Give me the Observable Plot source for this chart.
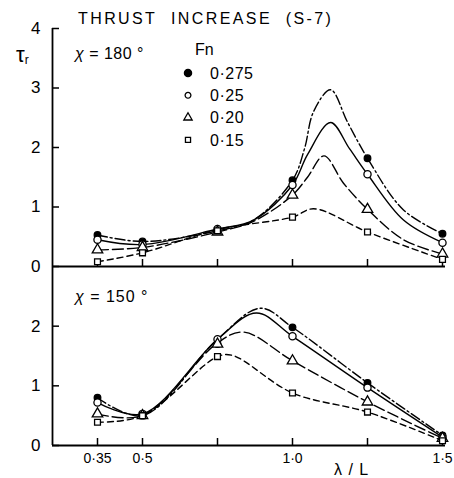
<!DOCTYPE html>
<html><head><meta charset="utf-8">
<script src="https://cdn.jsdelivr.net/npm/d3@7"></script>
<script src="https://cdn.jsdelivr.net/npm/@observablehq/plot@0.6"></script>
<style>
body{margin:0;background:#fff;font-family:"Liberation Sans",Arial,sans-serif;}
#wrap{position:relative;width:454px;height:478px;overflow:hidden;background:#fff;}
.abs{position:absolute;white-space:nowrap;color:#000;line-height:1;}
#wrap svg{position:absolute;left:0;}
</style></head><body><div id="wrap"></div>
<script>
// ---- data ----
const lambda = [0.35, 0.5, 0.75, 1.0, 1.25, 1.5];
const fnLabels = ["0·275", "0·25", "0·20", "0·15"];
const xTicks = [0.35, 0.5, 0.75, 1.0, 1.25, 1.5];
const xTickLabels = ["0·35", "0·5", "", "1·0", "", "1·5"];
const yTicksTop = [0, 1, 2, 3, 4];
const yTicksBottom = [0, 1, 2];

// chi = 180 deg, measured points
const p180_275 = [0.53, 0.42, 0.60, 1.45, 1.82, 0.55];
const p180_25  = [0.45, 0.37, 0.63, 1.37, 1.55, 0.40];
const p180_20  = [0.28, 0.32, 0.58, 1.20, 0.96, 0.21];
const p180_15  = [0.08, 0.23, 0.60, 0.83, 0.58, 0.12];
// chi = 180 deg, faired curves
const c180_275 = [[0.35,0.53],[0.5,0.42],[0.75,0.60],[0.87,0.78],[1.0,1.45],[1.04,1.98],[1.07,2.6],[1.127,2.97],[1.183,2.43],[1.25,1.82],[1.37,0.95],[1.5,0.55]];
const c180_25  = [[0.35,0.45],[0.5,0.37],[0.75,0.63],[0.87,0.78],[1.0,1.37],[1.05,1.88],[1.127,2.42],[1.19,1.98],[1.25,1.55],[1.37,0.78],[1.5,0.40]];
const c180_20  = [[0.35,0.28],[0.5,0.32],[0.75,0.58],[0.87,0.76],[1.0,1.2],[1.05,1.5],[1.105,1.86],[1.17,1.4],[1.25,0.96],[1.37,0.45],[1.5,0.21]];
const c180_15  = [[0.35,0.08],[0.5,0.23],[0.75,0.62],[1.0,0.83],[1.07,0.97],[1.25,0.58],[1.5,0.12]];

// chi = 150 deg, measured points
const p150_275 = [0.80, 0.50, 1.70, 1.98, 1.05, 0.17];
const p150_25  = [0.72, 0.53, 1.78, 1.83, 0.97, 0.14];
const p150_20  = [0.53, 0.50, 1.70, 1.42, 0.73, 0.12];
const p150_15  = [0.39, 0.50, 1.49, 0.88, 0.56, 0.08];
// chi = 150 deg, faired curves
const c150_275 = [[0.35,0.80],[0.5,0.50],[0.75,1.78],[0.893,2.3],[1.0,1.98],[1.25,1.05],[1.5,0.17]];
const c150_25  = [[0.35,0.72],[0.5,0.53],[0.75,1.78],[0.88,2.22],[1.0,1.83],[1.25,0.97],[1.5,0.14]];
const c150_20  = [[0.35,0.53],[0.5,0.50],[0.75,1.72],[0.837,1.9],[1.0,1.42],[1.25,0.73],[1.5,0.12]];
const c150_15  = [[0.35,0.39],[0.5,0.50],[0.75,1.49],[0.8,1.51],[1.0,0.88],[1.25,0.56],[1.5,0.08]];

// ---- styles ----
const dashes = ["10,3,2,3", null, "11,4", "6,4"];
const symbols = ["circle", "circle", "triangle", "square"];
const fills = ["black", "white", "white", "white"];
const radii = [3.3, 3.6, 3.9, 3.3];

const wrap = document.getElementById("wrap");

function seriesMarks(points, curves) {
  const marks = [];
  curves.forEach((c, i) => {
    marks.push(Plot.line(c.map(([x, y]) => ({x, y})), {
      x: "x", y: "y", curve: "catmull-rom", stroke: "black",
      strokeWidth: 1.4, strokeDasharray: dashes[i]
    }));
  });
  points.forEach((p, i) => {
    marks.push(Plot.dot(lambda.map((x, j) => ({x, y: p[j]})), {
      x: "x", y: "y", symbol: symbols[i], r: radii[i],
      fill: fills[i], stroke: "black", strokeWidth: 1.3
    }));
  });
  return marks;
}

const common = {
  width: 454, marginLeft: 52, marginRight: 9,
  x: {domain: [0.2, 1.51]},
  style: {fontFamily: "Liberation Sans, Arial, sans-serif", color: "black", background: "transparent", overflow: "visible"}
};
const intFmt = d3.format("d");

const topPlot = Plot.plot({
  ...common,
  height: 266, marginTop: 28, marginBottom: 0,
  y: {domain: [0, 4]},
  marks: [
    Plot.ruleX([0.2], {strokeWidth: 1.8}),
    Plot.ruleY([0], {strokeWidth: 1.8}),
    Plot.axisY(yTicksTop, {tickSize: -7, tickPadding: 19, fontSize: 17, label: null, strokeWidth: 1.5, tickFormat: intFmt}),
    Plot.axisX(xTicks, {tickSize: -7, tickFormat: () => "", label: null, strokeWidth: 1.5}),
    ...seriesMarks([p180_275, p180_25, p180_20, p180_15], [c180_275, c180_25, c180_20, c180_15])
  ]
});
topPlot.style.top = "0px";
wrap.appendChild(topPlot);

const botPlot = Plot.plot({
  ...common,
  height: 222, marginTop: 10, marginBottom: 33,
  y: {domain: [0, 3.0]},
  marks: [
    Plot.ruleX([0.2], {strokeWidth: 1.8}),
    Plot.ruleY([0], {strokeWidth: 1.8}),
    Plot.axisY(yTicksBottom, {tickSize: -7, tickPadding: 19, fontSize: 17, label: null, strokeWidth: 1.5, tickFormat: intFmt}),
    Plot.axisX(xTicks, {tickSize: -7, tickPadding: 15, fontSize: 14, label: null, strokeWidth: 1.5,
      tickFormat: (d) => xTickLabels[xTicks.indexOf(d)]}),
    ...seriesMarks([p150_275, p150_25, p150_20, p150_15], [c150_275, c150_25, c150_20, c150_15])
  ]
});
botPlot.style.top = "256px";
wrap.appendChild(botPlot);

// ---- text annotations ----
function addText(html, left, top, css) {
  const d = document.createElement("div");
  d.className = "abs";
  d.innerHTML = html;
  d.style.left = left + "px";
  d.style.top = top + "px";
  Object.assign(d.style, css || {});
  wrap.appendChild(d);
}
addText("THRUST&nbsp; INCREASE&nbsp; (S-7)", 78, 11, {fontSize: "16px", letterSpacing: "2.4px"});
addText("τ<span style='font-size:12px;position:relative;top:2px'>r</span>", 16, 44, {fontSize: "22px"});
addText("<i>χ</i> = 180 °", 75, 46, {fontSize: "16px", letterSpacing: "0.5px"});
addText("<i>χ</i> = 150 °", 75, 289, {fontSize: "16px", letterSpacing: "1px"});
addText("λ / L", 334, 462, {fontSize: "16px", letterSpacing: "1px"});
addText("Fn", 195, 42, {fontSize: "16px"});

// ---- legend ----
const leg = d3.select(wrap).append("svg")
  .attr("width", 454).attr("height", 478)
  .style("position", "absolute").style("top", "0px").style("left", "0px")
  .style("pointer-events", "none");
const d3sym = {circle: d3.symbolCircle, triangle: d3.symbolTriangle, square: d3.symbolSquare};
fnLabels.forEach((lab, i) => {
  const cy = 73 + i * 22.3;
  const area = symbols[i] === "circle" ? Math.PI * (i === 0 ? 3.6 : 2.9) ** 2 : (symbols[i] === "triangle" ? 30 : 26);
  leg.append("path")
    .attr("d", d3.symbol(d3sym[symbols[i]], area)())
    .attr("transform", `translate(188,${cy})`)
    .attr("fill", fills[i]).attr("stroke", "black").attr("stroke-width", 1.3);
  leg.append("text")
    .attr("x", 210).attr("y", cy).attr("dy", "0.36em")
    .attr("font-size", 16).attr("font-family", "Liberation Sans, Arial, sans-serif")
    .attr("letter-spacing", "0.5px")
    .text(lab);
});
</script>
</body></html>
